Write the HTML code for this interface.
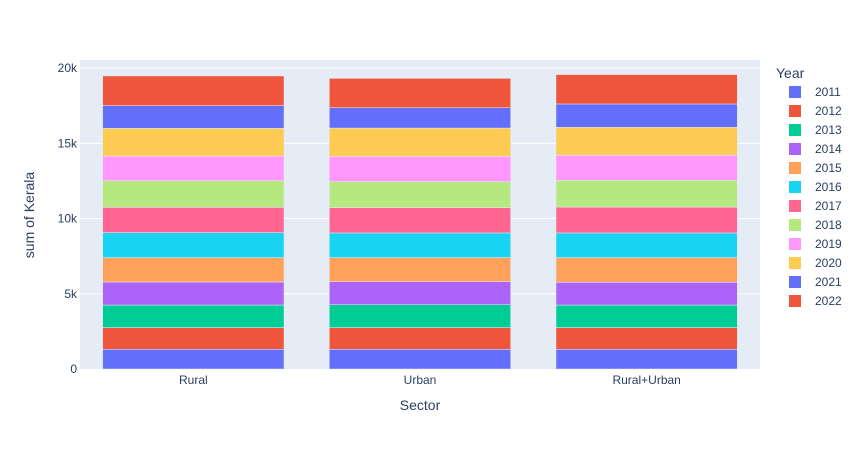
<!DOCTYPE html>
<html><head><meta charset="utf-8"><style>
body{margin:0;background:#fff;font-family:"Liberation Sans",sans-serif}
text{font-family:"Liberation Sans",sans-serif;fill:#2a3f5f}
</style></head><body>
<svg id="chart" width="863" height="450"></svg>
<script>
const categories=["Rural","Urban","Rural+Urban"];
const years=["2011","2012","2013","2014","2015","2016","2017","2018","2019","2020","2021","2022"];
const colors=["#636efa","#EF553B","#00cc96","#ab63fa","#FFA15A","#19d3f3","#FF6692","#B6E880","#FF97FF","#FECB52","#636efa","#EF553B"];
const ruralVals=[1310,1440,1500,1530,1620,1660,1680,1770,1640,1840,1510,1970];
const urbanVals=[1310,1440,1520,1530,1600,1640,1680,1730,1680,1880,1350,1950];
const ruralUrbanVals=[1310,1440,1500,1510,1640,1640,1720,1780,1660,1860,1550,1950];
const seriesByCat=[ruralVals,urbanVals,ruralUrbanVals];
const yTicks=[0,5000,10000,15000,20000];
const yTickLabels=["0","5k","10k","15k","20k"];
const NS="http://www.w3.org/2000/svg";
const svg=document.getElementById("chart");
const px0=80,px1=760,py0=60,py1=369;
function yScale(v){return py1-v*15.05/1000;}
const band=(px1-px0)/categories.length;
function xCenter(i){return px0+band*(i+0.5);}
function mk(tag,attrs,name,txt){const e=document.createElementNS(NS,tag);for(const k in attrs)e.setAttribute(k,attrs[k]);


if(txt!==undefined)e.textContent=txt;svg.appendChild(e);return e;}
mk("rect",{x:px0,y:py0,width:px1-px0,height:py1-py0,fill:"#e5ecf6"},"plot-background");
yTicks.forEach((t,i)=>{
  if(t>0)mk("line",{x1:px0,x2:px1,y1:yScale(t),y2:yScale(t),stroke:"#fff","stroke-width":1},"gridline-"+yTickLabels[i]);
  mk("text",{x:px0-3,y:yScale(t)+4,"text-anchor":"end","font-size":12},"y-tick-"+yTickLabels[i],yTickLabels[i]);
});
const bw=band*0.8;
categories.forEach((c,ci)=>{
  let cum=0;
  seriesByCat[ci].forEach((v,si)=>{
    const y0=yScale(cum),y1=yScale(cum+v);
    mk("rect",{x:xCenter(ci)-bw/2,y:y1,width:bw,height:y0-y1,fill:colors[si],stroke:"#e5ecf6","stroke-width":0.5},"bar-"+c.toLowerCase().replace('+','-')+"-"+years[si]);
    cum+=v;
  });
  mk("text",{x:xCenter(ci),y:py1+15,"text-anchor":"middle","font-size":12},"x-tick-"+c.toLowerCase().replace('+','-'),c);
});
mk("text",{x:420,y:410,"text-anchor":"middle","font-size":14},"x-axis-title","Sector");
mk("text",{x:34,y:215,"text-anchor":"middle","font-size":14,transform:"rotate(-90 34 215)"},"y-axis-title","sum of Kerala");
mk("text",{x:776,y:78,"font-size":14},"legend-title","Year");
years.forEach((yr,i)=>{
  const ly=92+i*19;
  mk("rect",{x:789,y:ly-6,width:12,height:12,fill:colors[i]},"legend-swatch-"+yr);
  mk("text",{x:815,y:ly+4,"font-size":12},"legend-entry-"+yr,yr);
});
</script>
</body></html>
